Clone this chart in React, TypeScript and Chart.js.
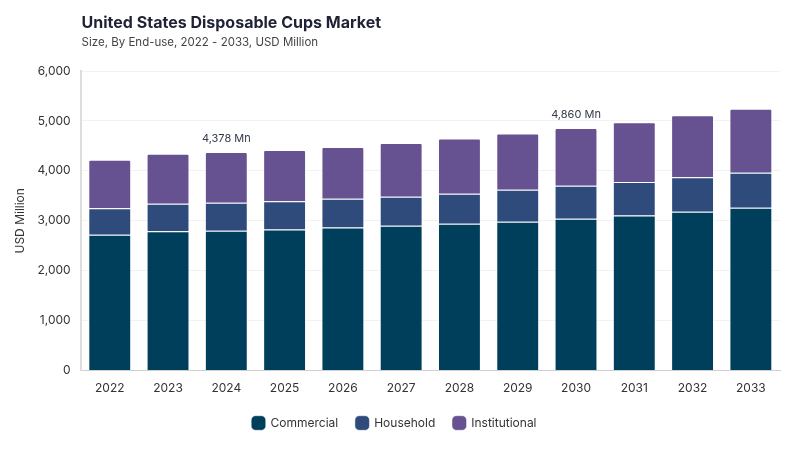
import React, { useEffect, useRef } from 'react';
import Chart from 'chart.js/auto';

const years = ['2022', '2023', '2024', '2025', '2026', '2027', '2028', '2029', '2030', '2031', '2032', '2033'];
const commercial = [2720, 2790, 2800, 2825, 2865, 2900, 2940, 2980, 3040, 3105, 3180, 3260];
const household = [530, 550, 560, 565, 575, 580, 600, 640, 660, 670, 690, 700];
const institutional = [975, 1005, 1018, 1030, 1040, 1080, 1110, 1130, 1160, 1200, 1245, 1285];
const callouts = [
  { year: '2024', text: '4,378 Mn' },
  { year: '2030', text: '4,860 Mn' },
];

const FONT = 'Inter, "DejaVu Sans", sans-serif';

const headerPlugin = {
  id: 'header',
  afterDraw(chart: any) {
    const { ctx, chartArea } = chart;
    ctx.save();
    ctx.fillStyle = '#1f2235';
    ctx.textBaseline = 'alphabetic';
    ctx.font = `bold 16px ${FONT}`;
    ctx.fillText('United States Disposable Cups Market', chartArea.left + 1, 28);
    ctx.fillStyle = '#444';
    ctx.font = `11.5px ${FONT}`;
    ctx.fillText('Size, By End-use, 2022 - 2033, USD Million', chartArea.left + 1, 46);
    ctx.restore();
  },
};

const calloutPlugin = {
  id: 'callouts',
  afterDatasetsDraw(chart: any) {
    const { ctx, scales } = chart;
    ctx.save();
    ctx.fillStyle = '#333a48';
    ctx.font = `11px ${FONT}`;
    ctx.textAlign = 'center';
    ctx.textBaseline = 'bottom';
    callouts.forEach((c) => {
      const i = years.indexOf(c.year);
      const total = commercial[i] + household[i] + institutional[i];
      ctx.fillText(c.text, scales.x.getPixelForValue(i), scales.y.getPixelForValue(total) - 8);
    });
    ctx.restore();
  },
};

const App: React.FC = () => {
  const canvasRef = useRef<HTMLCanvasElement>(null);
  const chartRef = useRef<Chart | null>(null);

  useEffect(() => {
    if (!canvasRef.current) return;
    if (chartRef.current) chartRef.current.destroy();
    const ctx = canvasRef.current.getContext('2d');
    if (!ctx) return;

    const common = {
      borderColor: 'rgba(255,255,255,0.5)',
      borderWidth: 1,
      categoryPercentage: 0.8,
      barPercentage: 0.92,
    };

    chartRef.current = new Chart(ctx, {
      type: 'bar',
      data: {
        labels: years,
        datasets: [
          { label: 'Commercial', data: commercial, backgroundColor: '#003f5c', ...common },
          { label: 'Household', data: household, backgroundColor: '#2f4b7c', ...common },
          {
            label: 'Institutional',
            data: institutional,
            backgroundColor: '#665191',
            ...common,
            borderRadius: { topLeft: 2, topRight: 2 },
            borderSkipped: 'bottom',
          },
        ],
      },
      options: {
        responsive: false,
        animation: false,
        layout: { padding: { top: 71, left: 9, right: 20, bottom: 11 } },
        scales: {
          x: {
            stacked: true,
            grid: { display: false },
            border: { color: '#cfcfcf' },
            ticks: { color: '#333', font: { family: FONT, size: 12 }, padding: 3 },
          },
          y: {
            stacked: true,
            min: 0,
            max: 6000,
            ticks: { stepSize: 1000, color: '#333', font: { family: FONT, size: 12 }, padding: 10 },
            grid: { color: '#f2f2f2', drawTicks: false },
            border: { color: '#dddddd', width: 2 },
            title: {
              display: true,
              text: 'USD Million',
              color: '#333',
              font: { family: FONT, size: 12 },
              padding: { top: 4, bottom: 0 },
            },
          },
        },
        plugins: {
          legend: {
            position: 'bottom',
            labels: {
              usePointStyle: true,
              pointStyle: 'rectRounded',
              boxWidth: 14,
              boxHeight: 14,
              padding: 18,
              color: '#333',
              font: { family: FONT, size: 12 },
            },
          },
          tooltip: { enabled: false },
        },
      },
      plugins: [headerPlugin, calloutPlugin],
    });

    return () => {
      if (chartRef.current) chartRef.current.destroy();
    };
  }, []);

  return (
    <div style={{ position: 'absolute', left: 0, top: 0, width: 800, height: 450, background: '#fff' }}>
      <canvas ref={canvasRef} width={800} height={450} />
    </div>
  );
};

export default App;
